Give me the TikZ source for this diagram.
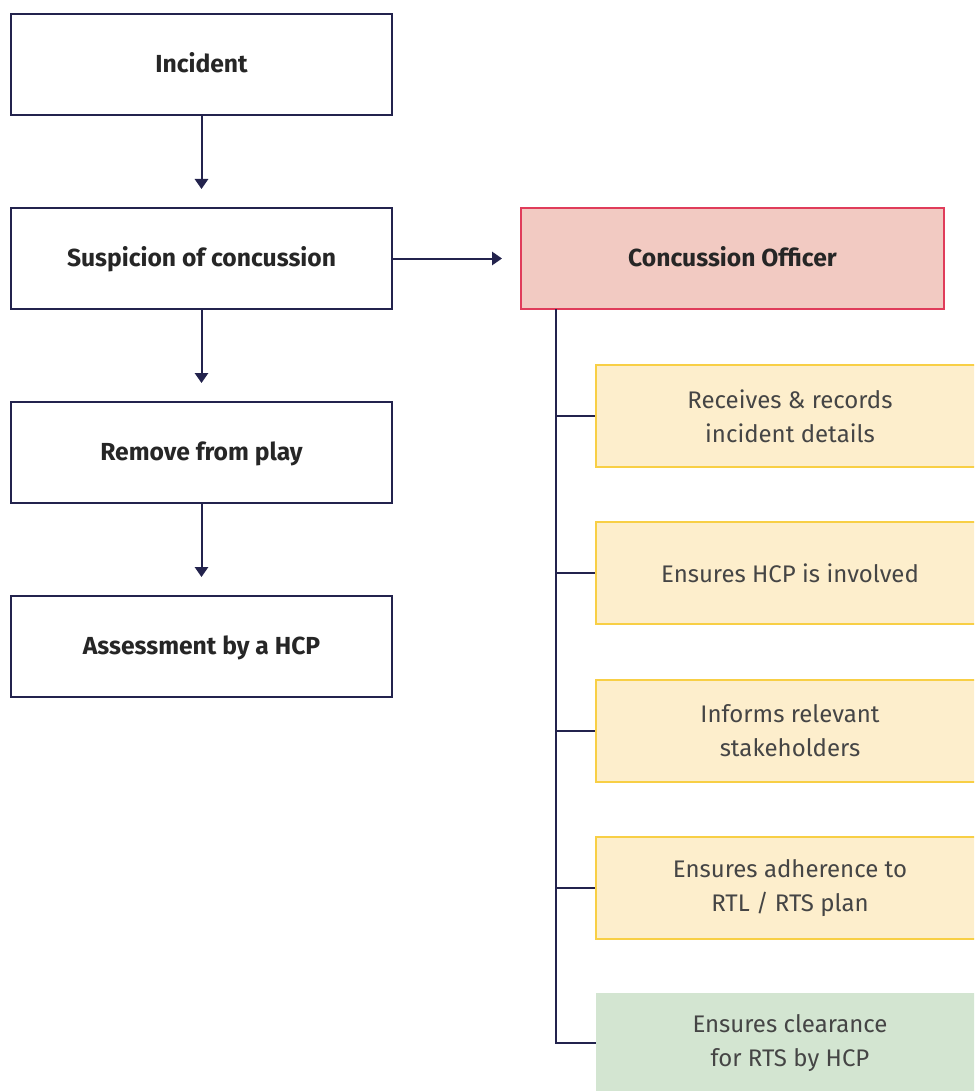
\documentclass[tikz,border=0pt]{standalone}
\usepackage{fontspec}
\setmainfont{Fira Sans}
\usepackage{xcolor}
\usetikzlibrary{arrows.meta}

\definecolor{navy}{HTML}{23234D}
\definecolor{textgray}{HTML}{454545}
\definecolor{copink}{HTML}{F2CAC2}
\definecolor{cored}{HTML}{E03C5A}
\definecolor{taskfill}{HTML}{FDEECC}
\definecolor{taskedge}{HTML}{F8CF45}
\definecolor{clearfill}{HTML}{D3E5D1}

\begin{document}
\begin{tikzpicture}[x=0.75pt, y=-0.75pt,
		stepbox/.style={draw=navy, line width=1.5pt, fill=white, minimum width=285.75pt, minimum height=75.75pt, text height=12pt, text depth=0pt, font=\fontsize{18.5}{22}\selectfont\bfseries, text=black!85},
		officer/.style={draw=cored, line width=1.5pt, fill=copink, minimum width=317.25pt, minimum height=75.75pt, text height=12pt, text depth=0pt, font=\fontsize{18.5}{22}\selectfont\bfseries, text=black!85},
		task/.style={draw=taskedge, line width=1.5pt, fill=taskfill, minimum width=291pt, minimum height=76.5pt, align=center, font=\fontsize{18}{25.5}\selectfont, text=textgray},
		clear/.style={fill=clearfill, minimum width=291pt, minimum height=75pt, align=center, font=\fontsize{18}{25.5}\selectfont, text=textgray},
		flow/.style={navy, line width=1.5pt, -{Triangle[length=7.5pt, width=10pt]}, shorten >=13.5pt},
		link/.style={navy, line width=1.5pt}]
	\useasboundingbox (0,0) rectangle (974,1091);
	\clip (0,0) rectangle (974,1091);
	
	% left column
	\node [stepbox] (inc) at (201.5,64.5) {Incident};
	\node [stepbox] (sus) at (201.5,258.5) {Suspicion of concussion};
	\node [stepbox] (rem) at (201.5,452.5) {Remove from play};
	\node [stepbox] (ass) at (201.5,646.5) {Assessment by a HCP};
	
	\draw [flow] (inc) -- (sus);
	\draw [flow] (sus) -- (rem);
	\draw [flow] (rem) -- (ass);
	
	% officer and duties
	\node [officer] (co) at (732.5,258.5) {Concussion Officer};
	\draw [flow] (sus) -- (co);
	
	\node [task] (t1) at (790,416) {Receives \& records\\incident details};
	\node [task] (t2) at (790,573) {Ensures HCP is involved};
	\node [task] (t3) at (790,730.5) {Informs relevant\\stakeholders};
	\node [task] (t4) at (790,888) {Ensures adherence to\\RTL / RTS plan};
	\node [clear] (t5) at (790,1043) {Ensures clearance\\for RTS by HCP};
	
	\coordinate (trunk) at (556,309);
	\draw [link] (trunk) |- (t5.west);
	\foreach \t in {t1,t2,t3,t4}
	{
		\draw [link] (trunk |- \t.west) -- (\t.west);
	}
\end{tikzpicture}
\end{document}
